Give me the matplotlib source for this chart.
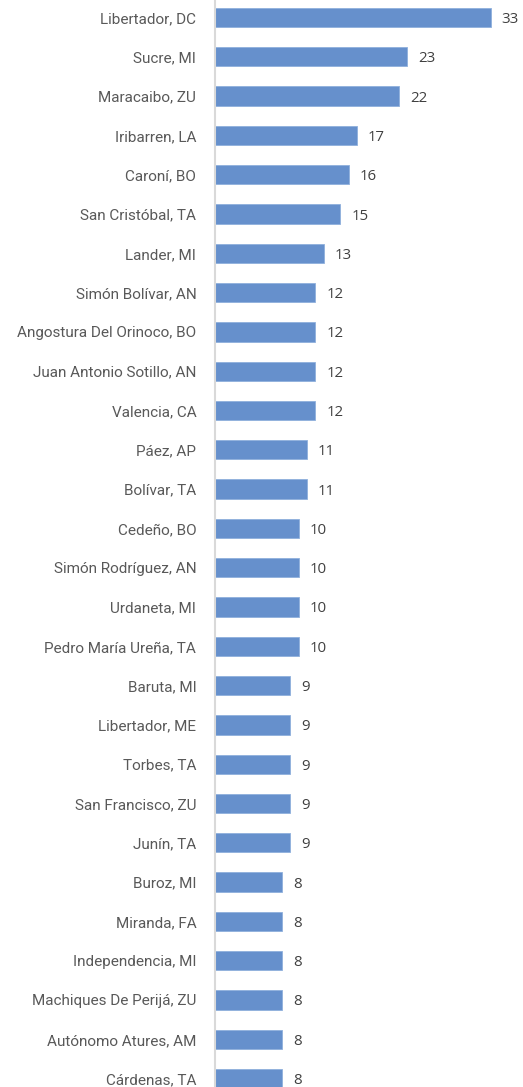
import matplotlib
matplotlib.use('Agg')
import matplotlib.pyplot as plt

# municipios y cantidad
municipios = ['Libertador, DC', 'Sucre, MI', 'Maracaibo, ZU', 'Iribarren, LA',
              'Caroní, BO', 'San Cristóbal, TA', 'Lander, MI', 'Simón Bolívar, AN',
              'Angostura Del Orinoco, BO', 'Juan Antonio Sotillo, AN', 'Valencia, CA',
              'Páez, AP', 'Bolívar, TA', 'Cedeño, BO', 'Simón Rodríguez, AN',
              'Urdaneta, MI', 'Pedro María Ureña, TA', 'Baruta, MI', 'Libertador, ME',
              'Torbes, TA', 'San Francisco, ZU', 'Junín, TA', 'Buroz, MI',
              'Miranda, FA', 'Independencia, MI', 'Machiques De Perijá, ZU',
              'Autónomo Atures, AM', 'Cárdenas, TA']
valores = [33, 23, 22, 17, 16, 15, 13, 12, 12, 12, 12, 11, 11, 10, 10, 10, 10,
           9, 9, 9, 9, 9, 8, 8, 8, 8, 8, 8]

W, H = 523, 1087
fig = plt.figure(figsize=(W / 100, H / 100), dpi=100)
ax = fig.add_axes([215 / W, 0, 301 / W, 1])

pos = list(range(len(municipios)))
ax.barh(pos, valores, height=0.49, color='#6690cc', edgecolor='#8fb0dc', linewidth=0.6)

ax.set_xlim(0, 36)
ax.set_ylim((H - 17.5) / 39.3, -17.5 / 39.3)

ax.set_yticks(pos)
ax.set_yticklabels(municipios, family='Roboto', fontsize=11.0, color='#595959')
ax.tick_params(axis='y', length=0, pad=13.5)
ax.set_xticks([])

for s in ['top', 'right', 'bottom']:
    ax.spines[s].set_visible(False)
ax.spines['left'].set_color('#d9d9d9')
ax.spines['left'].set_linewidth(1.5)

for i, v in enumerate(valores):
    ax.text(v + 1.3, i, str(v), va='center_baseline', ha='left', fontsize=10.8,
            family=['Open Sans', 'DejaVu Sans'], color='#404040')

fig.savefig('out.png', dpi=100)
